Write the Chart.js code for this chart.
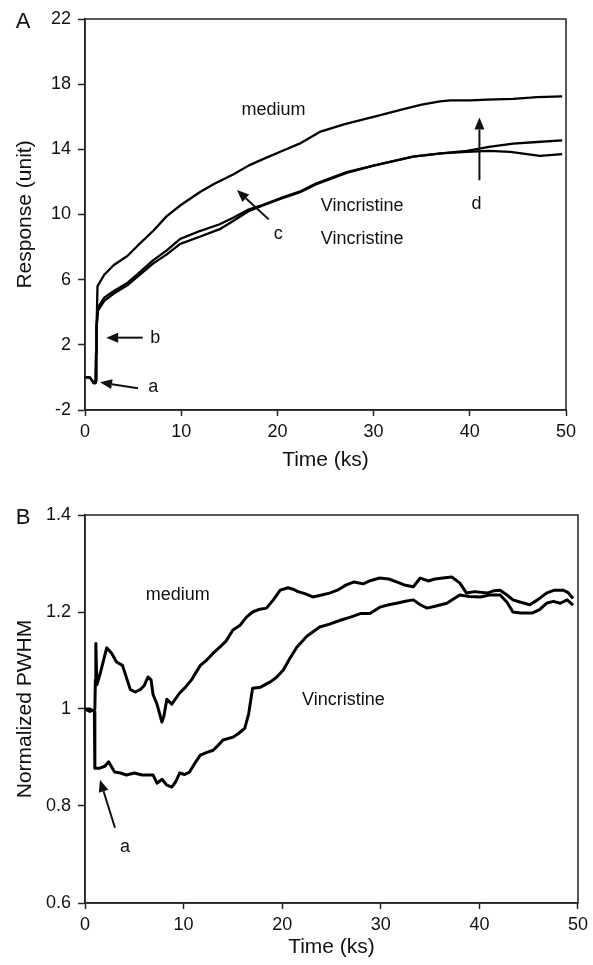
<!DOCTYPE html>
<html>
<head>
<meta charset="utf-8">
<script src="https://cdn.jsdelivr.net/npm/chart.js@4.4.1/dist/chart.umd.min.js"></script>
<style>
  html, body { margin: 0; padding: 0; background: #fff; }
  #wrap { position: relative; width: 593px; height: 965px; }
  canvas { position: absolute; left: 0; }
  #chartA { top: 0; }
  #chartB { top: 480px; }
</style>
</head>
<body>
<div id="wrap">
  <canvas id="chartA" width="593" height="480"></canvas>
  <canvas id="chartB" width="593" height="485"></canvas>
</div>
<script>
"use strict";

// =========
// Panel A
// =========
const mediumAX = [0, 0.5, 0.9, 1.0, 1.15, 1.2, 1.3, 2, 3, 4.4, 5.5, 7.1, 8.5, 10, 12, 13.5, 15.4, 17, 18.5, 20.3, 22.3, 24.4, 27, 30.7, 33, 35, 36.9, 38, 40, 41.8, 44.5, 47, 49.6];
const mediumAY = [0.0, 0.0, -0.3, -0.3, -0.2, 3.0, 5.6, 6.3, 6.9, 7.45, 8.1, 9.0, 9.9, 10.6, 11.4, 11.9, 12.45, 13.0, 13.4, 13.85, 14.35, 15.07, 15.55, 16.1, 16.45, 16.75, 16.95, 17.0, 17.0, 17.05, 17.1, 17.2, 17.25];

const vinc1AX = [0, 0.5, 0.9, 1.1, 1.15, 1.2, 1.35, 2, 3, 4.4, 5.5, 7.1, 8.5, 9.9, 12, 14, 15.4, 17, 18.5, 20.3, 22.3, 24, 27.2, 30, 34.1, 37, 39.7, 42, 44.5, 47, 49.6];
const vinc1AY = [0, 0, -0.35, -0.35, 1.5, 3.2, 4.3, 4.9, 5.3, 5.8, 6.35, 7.2, 7.8, 8.5, 9.0, 9.4, 9.8, 10.3, 10.6, 11.0, 11.4, 11.9, 12.6, 13.0, 13.55, 13.75, 13.9, 14.15, 14.35, 14.45, 14.55];

const vinc2AX = [0, 0.5, 0.9, 1.1, 1.15, 1.2, 1.35, 2, 3, 4.4, 5.5, 7.1, 8.5, 9.9, 12, 14, 15.4, 17, 18.5, 20.3, 22.3, 24, 27.2, 30, 34.1, 37, 39.7, 42, 44.2, 47.3, 49.6];
const vinc2AY = [0, 0, -0.35, -0.35, 1.5, 3.0, 4.1, 4.7, 5.15, 5.65, 6.2, 7.0, 7.55, 8.2, 8.65, 9.1, 9.6, 10.2, 10.55, 10.95, 11.35, 11.85, 12.55, 13.0, 13.55, 13.75, 13.85, 13.9, 13.85, 13.6, 13.7];

const xTicksA = [0, 10, 20, 30, 40, 50];
const yTicksA = [-2, 2, 6, 10, 14, 18, 22];

// text labels [x, y, text] and arrows [fromX, fromY, toX, toY] in data units
const textsA = [
  [19.6, 16.4, "medium"],
  [28.8, 10.5, "Vincristine"],
  [28.8, 8.47, "Vincristine"],
  [7.1, -0.6, "a"],
  [7.3, 2.44, "b"],
  [20.1, 8.83, "c"],
  [40.7, 10.66, "d"],
];
const arrowsA = [
  [5.5, -0.66, 1.56, -0.3],
  [6.0, 2.44, 2.2, 2.44],
  [19.1, 9.7, 15.8, 11.5],
  [41.0, 12.1, 41.0, 15.95],
];

// =========
// Panel B
// =========
const mediumBX = [0, 0.5, 1.0, 1.05, 1.1, 1.2, 1.5, 2.2, 2.7, 3.2, 3.8, 4.6, 5.1, 5.6, 6.0, 6.4, 6.7, 6.9, 7.3, 7.8, 8.0, 8.3, 8.8, 9.6, 10.2, 10.8, 11.7, 12.3, 13.0, 13.7, 14.3, 15.0, 15.7, 16.4, 17.0, 17.6, 18.4, 19.1, 19.8, 20.6, 21.1, 21.6, 22.3, 23.1, 24.0, 24.8, 25.6, 26.5, 27.3, 28.2, 29.0, 29.9, 30.8, 31.6, 32.5, 33.3, 34.0, 34.8, 35.5, 36.3, 37.2, 38.0, 38.7, 39.5, 40.8, 41.5, 42.1, 42.8, 43.4, 44.2, 45.1, 45.9, 46.8, 47.6, 48.5, 49.0, 49.5];
const mediumBY = [1.0, 0.995, 1.0, 1.06, 1.135, 1.05, 1.07, 1.126, 1.115, 1.097, 1.09, 1.04, 1.035, 1.04, 1.048, 1.066, 1.06, 1.03, 1.01, 0.973, 0.985, 1.02, 1.01, 1.033, 1.045, 1.06, 1.09, 1.1, 1.115, 1.128, 1.14, 1.163, 1.172, 1.19, 1.2, 1.205, 1.208, 1.225, 1.245, 1.25, 1.247, 1.242, 1.238, 1.231, 1.235, 1.239, 1.245, 1.256, 1.262, 1.258, 1.265, 1.27, 1.268, 1.262, 1.255, 1.252, 1.27, 1.264, 1.268, 1.27, 1.272, 1.26, 1.239, 1.242, 1.239, 1.244, 1.245, 1.235, 1.225, 1.22, 1.215, 1.225, 1.239, 1.245, 1.245, 1.24, 1.228];

const vincBX = [0, 0.5, 0.95, 1.0, 1.5, 2.0, 2.4, 3.0, 3.6, 4.2, 5.0, 5.8, 6.9, 7.3, 7.8, 8.3, 8.8, 9.2, 9.6, 10.1, 10.6, 11.2, 11.7, 12.3, 13.0, 13.5, 14.0, 15.0, 15.6, 16.2, 16.6, 17.0, 17.8, 18.8, 19.4, 20.1, 20.8, 21.5, 22.5, 23.8, 24.8, 25.9, 27.0, 28.0, 28.9, 29.9, 30.8, 31.6, 32.5, 33.3, 34.0, 34.7, 35.5, 36.7, 38.0, 39.0, 40.1, 41.0, 42.1, 42.8, 43.4, 44.2, 45.4, 46.1, 46.8, 47.5, 48.2, 48.9, 49.5];
const vincBY = [1.0, 1.0, 0.995, 0.878, 0.878, 0.882, 0.891, 0.87, 0.868, 0.864, 0.868, 0.864, 0.864, 0.847, 0.855, 0.843, 0.839, 0.85, 0.868, 0.865, 0.87, 0.89, 0.905, 0.91, 0.915, 0.925, 0.936, 0.942, 0.95, 0.96, 0.99, 1.043, 1.045, 1.056, 1.065, 1.08, 1.105, 1.128, 1.15, 1.169, 1.175, 1.183, 1.19, 1.197, 1.197, 1.21, 1.215, 1.218, 1.222, 1.225, 1.215, 1.208, 1.212, 1.218, 1.235, 1.232, 1.231, 1.235, 1.235, 1.22, 1.2, 1.198, 1.198, 1.205, 1.218, 1.222, 1.218, 1.225, 1.214];

const xTicksB = [0, 10, 20, 30, 40, 50];
const yTicksB = [0.6, 0.8, 1.0, 1.2, 1.4];

const textsB = [
  [9.4, 1.235, "medium"],
  [26.2, 1.019, "Vincristine"],
  [4.06, 0.715, "a"],
];
const arrowsB = [
  [3.04, 0.755, 1.52, 0.854],
];

// ========
// Helpers
// ========
const FONT = "'Liberation Sans', Arial, sans-serif";
const INK = "#111";

const toPoints = (xs, ys) => xs.map((x, i) => ({ x: x, y: ys[i] }));

const drawArrow = (ctx, x1, y1, x2, y2) => {
  const ang = Math.atan2(y2 - y1, x2 - x1);
  const head = 12;
  const half = 5;
  const bx = x2 - head * Math.cos(ang);
  const by = y2 - head * Math.sin(ang);
  ctx.beginPath();
  ctx.moveTo(x1, y1);
  ctx.lineTo(bx, by);
  ctx.stroke();
  ctx.beginPath();
  ctx.moveTo(x2, y2);
  ctx.lineTo(bx + half * Math.sin(ang), by - half * Math.cos(ang));
  ctx.lineTo(bx - half * Math.sin(ang), by + half * Math.cos(ang));
  ctx.closePath();
  ctx.fill();
};

// frame round the plot area plus the panel letter, texts and arrows
const decorPlugin = {
  id: "decor",
  afterDatasetsDraw(chart, args, opts) {
    const { ctx, chartArea, scales } = chart;
    const sx = scales.x;
    const sy = scales.y;
    ctx.save();
    ctx.strokeStyle = "#222";
    ctx.lineWidth = 1.5;
    ctx.strokeRect(chartArea.left, chartArea.top, chartArea.right - chartArea.left, chartArea.bottom - chartArea.top);

    ctx.fillStyle = INK;
    ctx.strokeStyle = INK;
    ctx.font = "18px " + FONT;
    ctx.textAlign = "center";
    ctx.textBaseline = "middle";
    for (const t of opts.texts) {
      ctx.fillText(t[2], sx.getPixelForValue(t[0]), sy.getPixelForValue(t[1]));
    }
    ctx.lineWidth = 2;
    for (const a of opts.arrows) {
      drawArrow(
        ctx,
        sx.getPixelForValue(a[0]), sy.getPixelForValue(a[1]),
        sx.getPixelForValue(a[2]), sy.getPixelForValue(a[3]),
      );
    }

    ctx.font = "22px " + FONT;
    ctx.textAlign = "center";
    ctx.fillText(opts.letter, 23, chartArea.top + 3);
    ctx.restore();
  },
};

const makeChart = (canvasId, cfg) => {
  const ctx = document.getElementById(canvasId);
  return new Chart(ctx, {
    type: "line",
    data: {
      datasets: cfg.series.map((s) => ({
        data: s,
        borderColor: "#000",
        borderWidth: cfg.lineWidth,
        borderJoinStyle: "round",
        pointRadius: 0,
        tension: 0,
        fill: false,
      })),
    },
    options: {
      responsive: false,
      animation: false,
      parsing: false,
      layout: { padding: cfg.padding },
      plugins: {
        legend: { display: false },
        tooltip: { enabled: false },
        decor: { texts: cfg.texts, arrows: cfg.arrows, letter: cfg.letter },
      },
      scales: {
        x: {
          type: "linear",
          min: cfg.xTicks[0],
          max: cfg.xTicks[cfg.xTicks.length - 1],
          afterBuildTicks: (scale) => {
            scale.ticks = cfg.xTicks.map((v) => ({ value: v }));
          },
          afterFit: (scale) => { scale.height = cfg.xAxisHeight; },
          grid: { drawOnChartArea: false, drawTicks: true, tickLength: 6, color: "#222", tickWidth: 1.5 },
          border: { color: "#222", width: 1.5 },
          ticks: { color: INK, padding: 5, maxRotation: 0, font: { family: FONT, size: 18 } },
          title: {
            display: true,
            text: "Time (ks)",
            color: INK,
            font: { family: FONT, size: 21 },
            padding: { top: 0, bottom: cfg.xTitlePad },
          },
        },
        y: {
          type: "linear",
          min: cfg.yTicks[0],
          max: cfg.yTicks[cfg.yTicks.length - 1],
          afterBuildTicks: (scale) => {
            scale.ticks = cfg.yTicks.map((v) => ({ value: v }));
          },
          afterFit: (scale) => { scale.width = 85; },
          grid: { drawOnChartArea: false, drawTicks: true, tickLength: 7, color: "#222", tickWidth: 1.5 },
          border: { color: "#222", width: 1.5 },
          ticks: {
            color: INK,
            padding: 7,
            font: { family: FONT, size: 18 },
            callback: (v) => String(Number(v.toFixed(1))),
          },
          title: {
            display: true,
            text: cfg.yTitle,
            color: INK,
            font: { family: FONT, size: 21 },
            padding: { top: 13, bottom: 0 },
          },
        },
      },
    },
    plugins: [decorPlugin],
  });
};

makeChart("chartA", {
  series: [toPoints(mediumAX, mediumAY), toPoints(vinc1AX, vinc1AY), toPoints(vinc2AX, vinc2AY)],
  lineWidth: 2.3,
  xTicks: xTicksA,
  yTicks: yTicksA,
  yTitle: "Response (unit)",
  texts: textsA,
  arrows: arrowsA,
  letter: "A",
  padding: { top: 19, right: 27, left: 0, bottom: 0 },
  xAxisHeight: 70,
  xTitlePad: 7,
});

makeChart("chartB", {
  series: [toPoints(mediumBX, mediumBY), toPoints(vincBX, vincBY)],
  lineWidth: 3,
  xTicks: xTicksB,
  yTicks: yTicksB,
  yTitle: "Normalized PWHM",
  texts: textsB,
  arrows: arrowsB,
  letter: "B",
  padding: { top: 35, right: 15, left: 0, bottom: 0 },
  xAxisHeight: 62,
  xTitlePad: 5,
});
</script>
</body>
</html>
